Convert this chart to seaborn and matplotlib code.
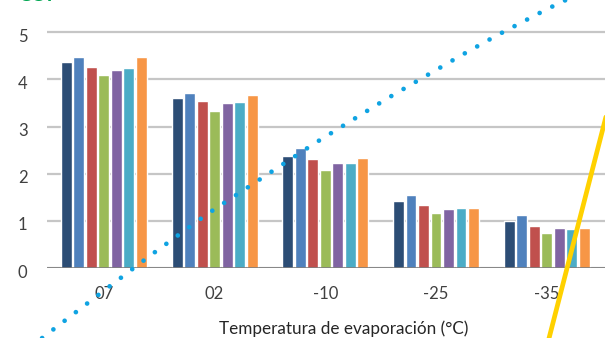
import pandas as pd
import numpy as np
import matplotlib
matplotlib.use("Agg")
import matplotlib.pyplot as plt
import matplotlib.transforms as mtransforms
import seaborn as sns

# Data
temps = ["07", "02", "-10", "-25", "-35"]
series = ["S1", "S2", "S3", "S4", "S5", "S6", "S7"]
s1 = [4.36, 3.60, 2.37, 1.43, 1.00]
s2 = [4.47, 3.71, 2.54, 1.54, 1.12]
s3 = [4.26, 3.54, 2.31, 1.33, 0.90]
s4 = [4.09, 3.33, 2.07, 1.16, 0.74]
s5 = [4.20, 3.50, 2.22, 1.25, 0.85]
s6 = [4.24, 3.52, 2.22, 1.27, 0.82]
s7 = [4.47, 3.67, 2.33, 1.27, 0.85]
colors = ["#2c4d75", "#4f81bd", "#c0504d", "#9bbb59", "#8064a2", "#4bacc6", "#f79646"]

# overlapping curve from another chart (dotted blue) and yellow line
curve_x = [-0.558, 0.011, 0.417, 0.930, 1.369, 1.899, 2.552, 3.218, 3.552, 4.006, 4.212]
curve_y = [-1.479, -0.456, 0.265, 1.142, 1.820, 2.638, 3.585, 4.496, 4.934, 5.492, 5.725]
yellow_x = [4.017, 4.535]
yellow_y = [-1.521, 3.203]

rows = []
for name, vals in zip(series, [s1, s2, s3, s4, s5, s6, s7]):
    for t, v in zip(temps, vals):
        rows.append({"temp": t, "serie": name, "cop": v})
df = pd.DataFrame(rows)

sns.set_style("white")
plt.rcParams["font.family"] = ["Lato", "DejaVu Sans"]

fig = plt.figure(figsize=(6.05, 3.38), dpi=100)
ax = fig.add_axes([47 / 605, (338 - 268.2) / 338, (641 - 47) / 605, (268.2 - 29.8) / 338])

sns.barplot(data=df, x="temp", y="cop", hue="serie", palette=colors, saturation=1,
            width=0.79, gap=0.13, legend=False, ax=ax, zorder=2)

ax.set_xlim(-0.514, 4.852)
ax.set_ylim(0, 5.05)
ax.set_yticks([0, 1, 2, 3, 4, 5])
ax.yaxis.grid(True, color="#c6c6c6", lw=1.6)
ax.set_axisbelow(True)
ax.axhline(0, color="#7a7a7a", lw=2, zorder=3, alpha=0.9)
for sp in ax.spines.values():
    sp.set_visible(False)

ax.tick_params(axis="x", length=0, pad=13, labelsize=12, labelcolor="#404040")
ax.tick_params(axis="y", length=0, pad=14, labelsize=12, labelcolor="#404040")
off = mtransforms.ScaledTranslation(0, -0.03, fig.dpi_scale_trans)
for lab in ax.get_yticklabels():
    lab.set_transform(lab.get_transform() + off)

ax.set_ylabel("")
ax.set_xlabel("Temperatura de evaporación (°C)", fontsize=12.3, color="#262626", labelpad=13)

ax.plot(curve_x, curve_y, color="#0fa3e2", lw=3.4, linestyle=(0, (0.001, 3.0)),
        dash_capstyle="round", clip_on=False, zorder=4)
ax.plot(yellow_x, yellow_y, color="#ffd100", lw=3.4, clip_on=False, zorder=4)

fig.text(0.03, 0.9965, "COP", color="#00a651", fontsize=14, fontweight="bold", va="baseline")

fig.savefig("out.png", dpi=100)
